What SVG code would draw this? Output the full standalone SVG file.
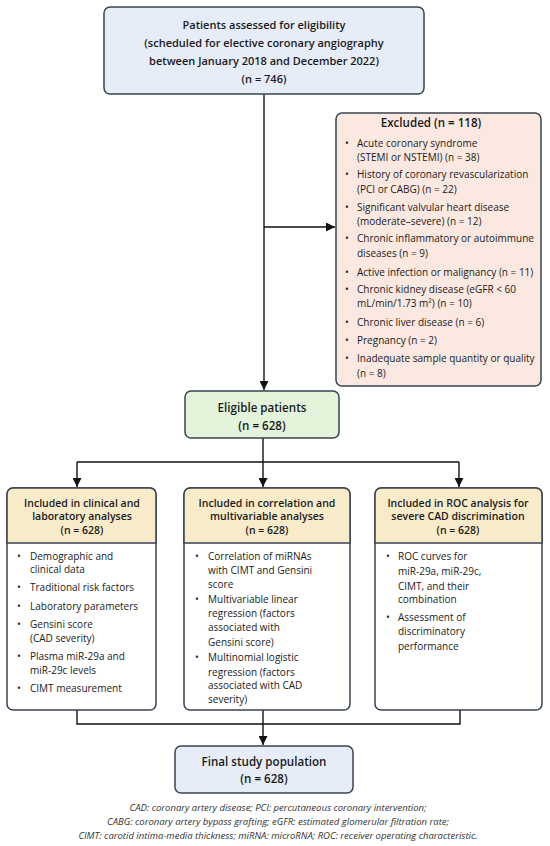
<svg xmlns="http://www.w3.org/2000/svg" width="550" height="846" viewBox="0 0 550 846">
<defs>
<marker id="arr" viewBox="0 0 10 10" refX="10" refY="5" markerWidth="9" markerHeight="9" markerUnits="userSpaceOnUse" orient="auto">
<path d="M0,0 L10,5 L0,10 z" fill="#111"/>
</marker>
<style>
.box{stroke:#3a4352;stroke-width:1.5}
.blue{fill:#e6edf8}
.red{fill:#fbe8e0}
.green{fill:#e4f4da}
.hdr{fill:#f8ebca}
.white{fill:#ffffff}
.t{font-family:"Open Sans","Noto Sans","Liberation Sans",sans-serif;fill:#1a1a1a}
.b{font-weight:600;font-size:11px;text-anchor:middle}
.b2{font-weight:600;font-size:11.6px;text-anchor:middle}
.h{font-weight:600;font-size:10.5px;text-anchor:middle}
.n{font-size:10px}
.fn{font-family:"Open Sans","Noto Sans","Liberation Sans",sans-serif;font-style:italic;font-size:9.5px;fill:#333;text-anchor:middle}
.ln{stroke:#111;stroke-width:1.4;fill:none}
</style>
</defs>

<g id="connectors">
<path class="ln" d="M264,94 V390" marker-end="url(#arr)"/>
<path class="ln" d="M264,227 H335" marker-end="url(#arr)"/>
<path class="ln" d="M263,438 V462"/>
<path class="ln" d="M77,462 H459"/>
<path class="ln" d="M77,462 V487" marker-end="url(#arr)"/>
<path class="ln" d="M263,462 V487" marker-end="url(#arr)"/>
<path class="ln" d="M459,462 V487" marker-end="url(#arr)"/>
<path class="ln" d="M77,710 V724 H460 V710"/>
<path class="ln" d="M263,710 V745" marker-end="url(#arr)"/>
</g>

<g id="assessed">
<rect class="box blue" x="104" y="7" width="320" height="87" rx="6"/>
<text class="t b" x="264" y="29">Patients assessed for eligibility</text>
<text class="t b" x="264" y="47">(scheduled for elective coronary angiography</text>
<text class="t b" x="264" y="65">between January 2018 and December 2022)</text>
<text class="t b" x="264" y="83">(n = 746)</text>
</g>

<g id="excluded">
<rect class="box red" x="336" y="113" width="205" height="273" rx="6"/>
<text class="t b2" x="431" y="127">Excluded (n = 118)</text>
<g class="t n">
<text x="345" y="147">•</text><text x="357" y="147">Acute coronary syndrome</text>
<text x="357" y="161">(STEMI or NSTEMI) (n = 38)</text>
<text x="345" y="178">•</text><text x="357" y="178">History of coronary revascularization</text>
<text x="357" y="193">(PCI or CABG) (n = 22)</text>
<text x="345" y="211">•</text><text x="357" y="211">Significant valvular heart disease</text>
<text x="357" y="225">(moderate–severe) (n = 12)</text>
<text x="345" y="242">•</text><text x="357" y="242">Chronic inflammatory or autoimmune</text>
<text x="357" y="257">diseases (n = 9)</text>
<text x="345" y="276">•</text><text x="357" y="276">Active infection or malignancy (n = 11)</text>
<text x="345" y="293">•</text><text x="357" y="293">Chronic kidney disease (eGFR &lt; 60</text>
<text x="357" y="307">mL/min/1.73 m²) (n = 10)</text>
<text x="345" y="326">•</text><text x="357" y="326">Chronic liver disease (n = 6)</text>
<text x="345" y="344">•</text><text x="357" y="344">Pregnancy (n = 2)</text>
<text x="345" y="362">•</text><text x="357" y="362">Inadequate sample quantity or quality</text>
<text x="357" y="377">(n = 8)</text>
</g>
</g>

<g id="eligible">
<rect class="box green" x="185" y="391" width="154" height="47" rx="6"/>
<text class="t b2" x="262" y="412">Eligible patients</text>
<text class="t b2" x="262" y="430">(n = 628)</text>
</g>

<g id="clinical">
<rect class="box white" x="7" y="488" width="149" height="222" rx="6"/>
<path class="box hdr" d="M7,543 V494 A6,6 0 0 1 13,488 H150 A6,6 0 0 1 156,494 V543 Z"/>
<text class="t h" x="82" y="507">Included in clinical and</text>
<text class="t h" x="82" y="520">laboratory analyses</text>
<text class="t h" x="82" y="534">(n = 628)</text>
<g class="t n">
<text x="17" y="560">•</text><text x="30" y="560">Demographic and</text>
<text x="30" y="573">clinical data</text>
<text x="17" y="591">•</text><text x="30" y="591">Traditional risk factors</text>
<text x="17" y="610">•</text><text x="30" y="610">Laboratory parameters</text>
<text x="17" y="628">•</text><text x="30" y="628">Gensini score</text>
<text x="30" y="642">(CAD severity)</text>
<text x="17" y="660">•</text><text x="30" y="660">Plasma miR-29a and</text>
<text x="30" y="674">miR-29c levels</text>
<text x="17" y="692">•</text><text x="30" y="692">CIMT measurement</text>
</g>
</g>

<g id="correlation">
<rect class="box white" x="184" y="488" width="166" height="222" rx="6"/>
<path class="box hdr" d="M184,543 V494 A6,6 0 0 1 190,488 H344 A6,6 0 0 1 350,494 V543 Z"/>
<text class="t h" x="267" y="507">Included in correlation and</text>
<text class="t h" x="267" y="520">multivariable analyses</text>
<text class="t h" x="267" y="534">(n = 628)</text>
<g class="t n">
<text x="195" y="560">•</text><text x="208" y="560">Correlation of miRNAs</text>
<text x="208" y="574">with CIMT and Gensini</text>
<text x="208" y="588">score</text>
<text x="195" y="603">•</text><text x="208" y="603">Multivariable linear</text>
<text x="208" y="617">regression (factors</text>
<text x="208" y="631">associated with</text>
<text x="208" y="646">Gensini score)</text>
<text x="195" y="661">•</text><text x="208" y="661">Multinomial logistic</text>
<text x="208" y="676">regression (factors</text>
<text x="208" y="689">associated with CAD</text>
<text x="208" y="703">severity)</text>
</g>
</g>

<g id="roc">
<rect class="box white" x="375" y="488" width="167" height="222" rx="6"/>
<path class="box hdr" d="M375,543 V494 A6,6 0 0 1 381,488 H536 A6,6 0 0 1 542,494 V543 Z"/>
<text class="t h" x="458" y="507">Included in ROC analysis for</text>
<text class="t h" x="458" y="520">severe CAD discrimination</text>
<text class="t h" x="458" y="534">(n = 628)</text>
<g class="t n">
<text x="386" y="560">•</text><text x="398" y="560">ROC curves for</text>
<text x="398" y="575">miR-29a, miR-29c,</text>
<text x="398" y="590">CIMT, and their</text>
<text x="398" y="603">combination</text>
<text x="386" y="621">•</text><text x="398" y="621">Assessment of</text>
<text x="398" y="635">discriminatory</text>
<text x="398" y="650">performance</text>
</g>
</g>

<g id="final">
<rect class="box blue" x="175" y="746" width="178" height="47" rx="6"/>
<text class="t b2" x="264" y="766">Final study population</text>
<text class="t b2" x="264" y="783">(n = 628)</text>
</g>

<g id="footnote">
<text class="fn" x="278" y="811">CAD: coronary artery disease; PCI: percutaneous coronary intervention;</text>
<text class="fn" x="278" y="825">CABG: coronary artery bypass grafting; eGFR: estimated glomerular filtration rate;</text>
<text class="fn" x="278" y="839">CIMT: carotid intima-media thickness; miRNA: microRNA; ROC: receiver operating characteristic.</text>
</g>
</svg>
